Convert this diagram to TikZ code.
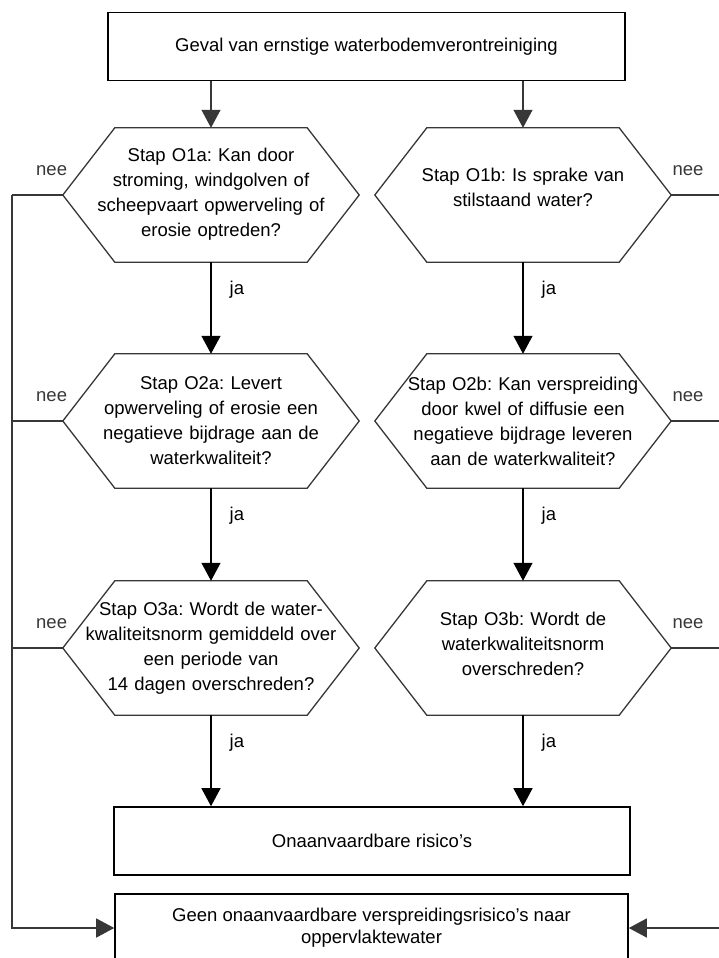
\documentclass[tikz,border=0pt]{standalone}
\usepackage{fontspec}
\setmainfont{Liberation Sans}
\usetikzlibrary{arrows.meta, positioning, calc}
\definecolor{flowgray}{RGB}{55, 55, 55}
\frenchspacing

\begin{document}
\begin{tikzpicture}[
  x=1pt, y=-1pt,
  every node/.style={font=\fontsize{18.5}{25}\selectfont, align=center, inner sep=0pt},
  stepbox/.style={draw, line width=1.6pt, minimum height=68pt},
  hexstep/.style={minimum width=296pt, minimum height=134pt, text width=266pt},
  hexline/.style={draw=flowgray, line width=1.3pt},
  line/.style={line width=1.3pt, flowgray},
  arr/.style={-{Triangle[length=18pt, width=19pt]}, line width=1.3pt},
  grayarr/.style={arr, flowgray},
  ja/.style={right=18pt, pos=0.3},
  neeL/.style={above=19pt, pos=0.22},
  neeR/.style={above=19pt, pos=0.32}
]
  \useasboundingbox (0,0) rectangle (718,958);

  % boxes
  \node[stepbox, minimum width=517pt] (start) at (366.5, 46.5) {Geval van ernstige waterbodemverontreiniging};
  \node[stepbox, minimum width=516pt] (risk) at (372, 841) {Onaanvaardbare risico’s};
  \node[stepbox, minimum width=513pt, font=\fontsize{18.5}{22}\selectfont] (geen) at (371.5, 928)
    {Geen onaanvaardbare verspreidingsrisico’s naar\\oppervlaktewater};

  % decision steps, left column
  \node[hexstep] (o1a) at (211, 195) {Stap O1a: Kan door\\stroming, windgolven of\\scheepvaart opwerveling of\\erosie optreden?\\[-20pt]\mbox{}};
  \node[hexstep] (o2a) at (211, 421) {Stap O2a: Levert\\opwerveling of erosie een\\negatieve bijdrage aan de\\waterkwaliteit?};
  \node[hexstep] (o3a) at (211, 648) {Stap O3a: Wordt de water-\\kwaliteitsnorm gemiddeld over\\een periode van\\14 dagen overschreden?};

  % decision steps, right column
  \node[hexstep] (o1b) at (523, 195) {Stap O1b: Is sprake van\\stilstaand water?\\[-9pt]\mbox{}};
  \node[hexstep] (o2b) at (523, 421) {Stap O2b: Kan verspreiding\\door kwel of diffusie een\\negatieve bijdrage leveren\\aan de waterkwaliteit?};
  \node[hexstep] (o3b) at (523, 648) {Stap O3b: Wordt de\\waterkwaliteitsnorm\\overschreden?\\[-17pt]\mbox{}};

  \foreach \hx in {o1a,o2a,o3a,o1b,o2b,o3b}
    \draw[hexline] (\hx.west) -- ([xshift=52pt]\hx.north west) -- ([xshift=-52pt]\hx.north east)
      -- (\hx.east) -- ([xshift=-52pt]\hx.south east) -- ([xshift=52pt]\hx.south west) -- cycle;

  \coordinate (railL) at (12, 928);
  \coordinate (railR) at (724, 928);

  % ja
  \draw[grayarr] (start.south -| o1a.north) -- (o1a.north);
  \draw[grayarr] (start.south -| o1b.north) -- (o1b.north);
  \draw[arr] (o1a) -- node[ja] {ja} (o2a);
  \draw[arr] (o2a) -- node[ja] {ja} (o3a);
  \draw[arr] (o3a.south) -- node[ja] {ja} (o3a.south |- risk.north);
  \draw[arr] (o1b) -- node[ja] {ja} (o2b);
  \draw[arr] (o2b) -- node[ja] {ja} (o3b);
  \draw[arr] (o3b.south) -- node[ja] {ja} (o3b.south |- risk.north);

  % nee
  \foreach \hx in {o1a,o2a,o3a}
    \draw[line] (\hx.west) -- node[neeL] {nee} (\hx.west -| railL);
  \foreach \hx in {o1b,o2b,o3b}
    \draw[line] (\hx.east) -- node[neeR] {nee} (\hx.east -| railR);
  \draw[grayarr] (o1a.west -| railL) -- (railL) -- (geen.west);
  \draw[grayarr] (o1b.east -| railR) -- (railR) -- (geen.east);
\end{tikzpicture}
\end{document}
